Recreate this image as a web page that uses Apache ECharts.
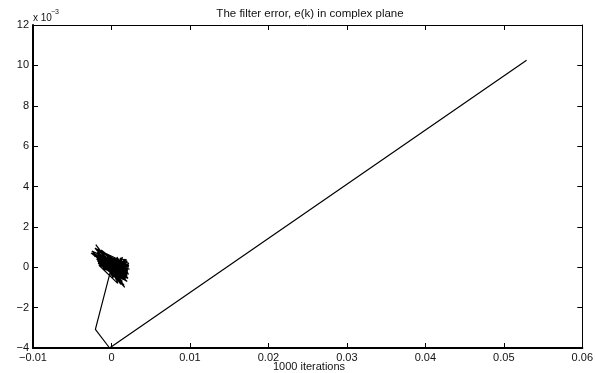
<!DOCTYPE html>
<html>
<head>
<meta charset="utf-8">
<script src="https://cdn.jsdelivr.net/npm/echarts@6/dist/echarts.min.js"></script>
<style>
  html, body { margin: 0; padding: 0; background: #fff; }
  #chart { width: 596px; height: 373px; }
</style>
</head>
<body>
<div id="chart"></div>
<script>
// e(k) samples, both parts in units of 1e-3
const errRe = [52.9, -0.24, -2.05, -0.2,
  0.3, -0.9, 1.1, -1.6, 0.6, 1.8, -0.4, -2.0, 0.2, 1.4,
  -1.2, 0.9, -0.6, 2.2, -1.5, 0.5, -2.5, 1.0, -0.3, 1.7,
  -0.8, 1.3, -1.8, 0.1, 2.0, -1.0, 0.7, -2.6, 0.4, 1.6,
  -0.5, 1.2, -1.3, 0.8, -0.2, 2.3, -1.7, 0.0, 1.5, -0.7,
  -2.2, 0.9, -0.1, 1.9, -1.1, 0.6, -1.9, 1.1, -0.4, 1.4,
  -0.9, 2.1, -1.4, 0.3, 1.7, -0.6, -2.1, 0.5, 1.2, -1.6,
  0.8, -0.3, 1.8, -1.0, 0.2, 1.5, -2.4, 0.9, -0.8, 2.0,
  -1.2, 0.4, 1.3, -0.5, -1.8, 1.0, -0.2, 1.6, -1.5, 0.6,
  1.9, -0.9, 0.1, -1.3, 1.1, -0.4, 2.2, -1.7, 0.7, -0.6,
  1.4, -1.1, 0.3, 1.8, -2.0, 0.5, -0.1, 1.2, -0.8, 0.9,
  -1.6, 2.0, -0.7, 1.5, -1.4, 0.2, 2.1, -1.0, 0.8, -1.8,
  1.3, -0.3, 1.9, -1.2, 0.5, -0.9, 1.7, -1.5, 0.0, 2.2,
  -0.6, 1.0, -1.7, 1.6, -0.2, 0.7, -1.1, 2.0, -0.5, 1.2,
  -1.9, 0.4, 1.8, -0.8, 1.1, -1.3, 0.3, 2.1, -0.4, 0.9,
  -1.6, 1.4, -0.1, 1.9, -1.0, 0.6, -1.4, 1.5, -0.7, 0.2,
  0.4, 1.9, 0.8, 2.1, 0.3, 1.6, 1.0, 2.2, 0.6, 1.4,
  0.2, 1.8, 1.1, 2.0, 0.5, 1.3, 0.9, 1.7, 0.3, 2.1,
  0.7, 1.5, 1.2, 1.9, 0.4, 1.0, 2.2, 0.6, 1.6, 0.8]
const errIm = [10.25, -4.0, -3.08, -0.3,
  0.2, 0.4, -0.2, 0.8, 0.1, -0.3, 0.3, 1.12, -0.1, 0.3,
  0.1, -0.6, 0.5, 0.0, 0.3, -0.3, 0.8, 0.2, -0.2, -1.0,
  0.2, -0.1, 0.5, 0.4, -0.4, -0.1, 0.3, 0.7, -0.2, 0.2,
  0.0, -0.85, 0.6, 0.0, 0.3, -0.1, 0.2, -0.3, -0.6, 0.4,
  0.55, 0.25, -0.4, 0.1, 0.3, -0.5, 0.9, 0.35, -0.15, -0.7,
  0.15, -0.2, 0.45, 0.05, -0.45, 0.25, 0.95, 0.3, -0.3, 0.1,
  -0.8, 0.45, 0.15, 0.35, -0.5, 0.05, 0.65, -0.15, -0.05, -0.7,
  0.5, 0.2, -0.5, 0.15, 0.75, -0.05, 0.1, -0.9, 0.55, 0.35,
  -0.25, 0.05, -0.25, 0.85, 0.1, 0.35, -0.35, 0.4, -0.35, 0.6,
  0.2, -0.05, 0.4, -0.6, 0.6, -0.1, 0.2, 0.0, 0.45, -0.4,
  0.35, 0.1, 0.45, -0.2, 0.25, 0.3, -0.1, 0.4, 0.05, 0.3,
  0.2, 0.5, -0.3, 0.1, -0.15, 0.35, 0.25, 0.45, 0.0, 0.05,
  0.4, 0.15, 0.25, -0.35, 0.2, 0.45, 0.05, -0.25, 0.35, 0.3,
  0.4, -0.05, 0.0, 0.25, -0.4, 0.5, 0.15, -0.15, 0.3, 0.1,
  0.15, -0.1, 0.35, 0.2, 0.45, -0.3, 0.3, 0.05, 0.4, -0.2,
  -0.5, 0.4, -0.3, -0.55, 0.45, -0.6, 0.35, 0.2, -0.45, 0.5,
  -0.2, -0.5, 0.45, 0.3, -0.6, 0.15, -0.55, 0.4, -0.35, -0.3,
  0.5, -0.45, 0.25, -0.15, 0.3, -0.5, 0.1, 0.4, -0.3, 0.2]

const xRange = [-10, 60, 10]
const yRange = [-4, 12, 2]

const chart = echarts.init(document.getElementById('chart'))

const minus = v => String(v).replace('-', '\u2212')
const fontFamily = 'Liberation Sans, Arial, sans-serif'
const labelFont = { color: '#111', fontSize: 11, fontFamily }

const option = {
  backgroundColor: '#fff',
  animation: false,
  grid: { left: 33, right: 11, top: 25, bottom: 25, containLabel: false },
  xAxis: [
    {
      type: 'value', position: 'bottom',
      min: xRange[0], max: xRange[1], interval: xRange[2],
      axisLine: { show: true, onZero: false, lineStyle: { color: '#000', width: 2 } },
      axisTick: { show: true, inside: true, length: 5, lineStyle: { color: '#000' } },
      axisLabel: { ...labelFont, margin: 4, formatter: v => minus(v / 1000) },
      splitLine: { show: false }
    },
    {
      type: 'value', position: 'top',
      min: xRange[0], max: xRange[1], interval: xRange[2],
      axisLine: { show: true, onZero: false, lineStyle: { color: '#000', width: 1 } },
      axisTick: { show: true, inside: true, length: 5, lineStyle: { color: '#000' } },
      axisLabel: { show: false },
      splitLine: { show: false }
    }
  ],
  yAxis: [
    {
      type: 'value', position: 'left',
      min: yRange[0], max: yRange[1], interval: yRange[2],
      axisLine: { show: true, onZero: false, lineStyle: { color: '#000', width: 2 } },
      axisTick: { show: true, inside: true, length: 5, lineStyle: { color: '#000' } },
      axisLabel: { ...labelFont, margin: 4, formatter: v => minus(v) },
      splitLine: { show: false }
    },
    {
      type: 'value', position: 'right',
      min: yRange[0], max: yRange[1], interval: yRange[2],
      axisLine: { show: true, onZero: false, lineStyle: { color: '#000', width: 1 } },
      axisTick: { show: true, inside: true, length: 5, lineStyle: { color: '#000' } },
      axisLabel: { show: false },
      splitLine: { show: false }
    }
  ],
  graphic: [
    {
      type: 'text', x: 310, y: 14,
      style: { text: 'The filter error, e(k) in complex plane', fill: '#111', fontSize: 11.5,
        fontFamily, textAlign: 'center', textVerticalAlign: 'middle' }
    },
    {
      type: 'text', x: 309, y: 367,
      style: { text: '1000 iterations', fill: '#111', fontSize: 11,
        fontFamily, textAlign: 'center', textVerticalAlign: 'middle' }
    },
    {
      type: 'text', x: 33, y: 18,
      style: { text: 'x 10', fill: '#111', fontSize: 10,
        fontFamily, textAlign: 'left', textVerticalAlign: 'middle' }
    },
    {
      type: 'text', x: 51, y: 12,
      style: { text: '\u22123', fill: '#111', fontSize: 7,
        fontFamily, textAlign: 'left', textVerticalAlign: 'middle' }
    }
  ],
  series: [
    {
      type: 'line',
      xAxisIndex: 0,
      yAxisIndex: 0,
      showSymbol: false,
      symbol: 'none',
      lineStyle: { color: '#000', width: 1.2 },
      data: errRe.map((re, i) => [re, errIm[i]])
    }
  ]
}
chart && chart.setOption(option)
</script>
</body>
</html>
